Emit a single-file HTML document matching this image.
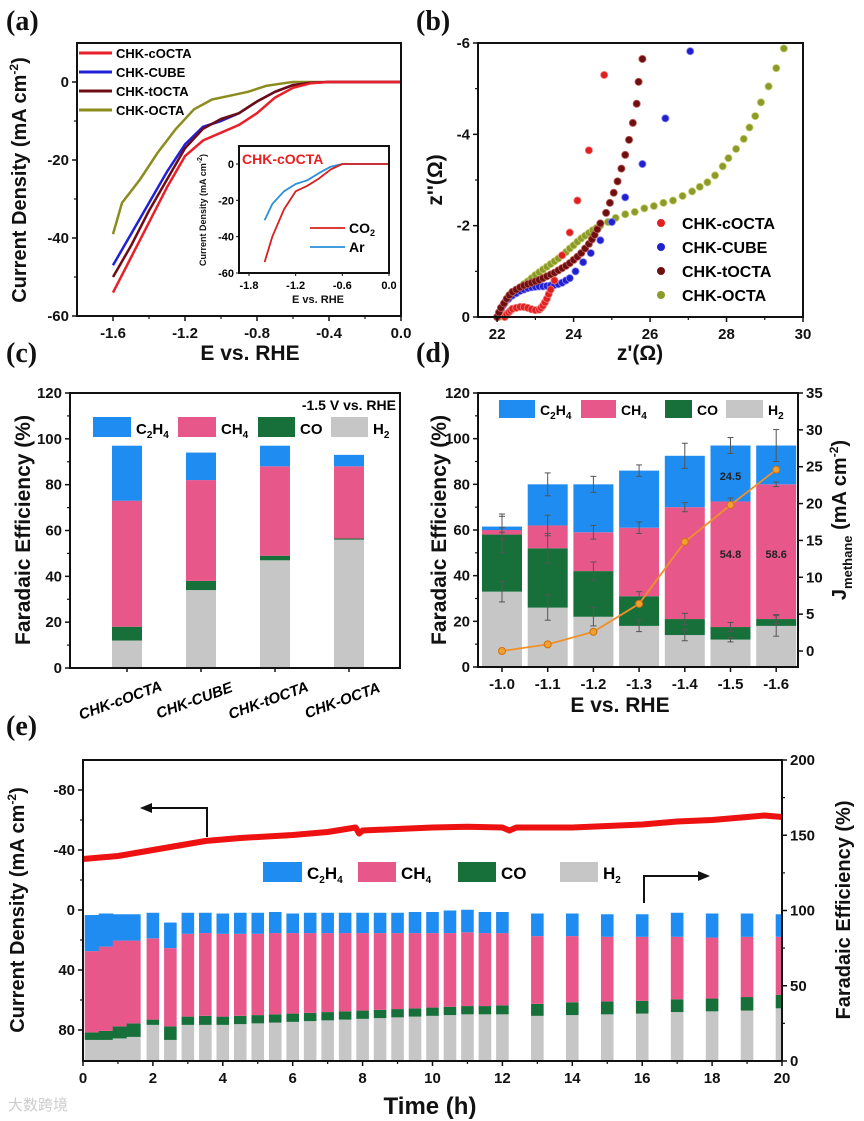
<!DOCTYPE html>
<html><head><meta charset="utf-8">
<style>
html,body{margin:0;padding:0;background:#fff;}
svg{display:block;font-family:"Liberation Sans",Arial,sans-serif;}
.tk{font-size:15px;font-weight:bold;fill:#111;}
.lab{font-weight:bold;fill:#111;}
.pl{font-family:"Liberation Serif",serif;font-size:28px;font-weight:bold;fill:#111;}
</style></head>
<body>
<svg id="fig" width="864" height="1121" viewBox="0 0 864 1121" xmlns="http://www.w3.org/2000/svg">
<g id="root"></g>
</svg>
<script>
// ---------- Panel (a) data ----------
const aE = [-1.6,-1.5,-1.4,-1.3,-1.2,-1.1,-1.0,-0.9,-0.8,-0.7,-0.6,-0.5,-0.4,0.0];
const aCOCTA = [-54,-45,-36,-27,-19,-15,-13,-11,-8,-4,-1.5,-0.3,0,0];
const aCUBE  = [-47,-39,-31,-23,-16,-11.5,-10,-8,-5,-2.5,-0.8,-0.2,0,0];
const aTOCTA = [-50,-42,-33,-25,-17,-12,-9.5,-8,-5,-2.5,-0.8,-0.2,0,0];
const aOCTAE = [-1.6,-1.55,-1.45,-1.35,-1.25,-1.15,-1.05,-0.95,-0.85,-0.75,-0.65,-0.6,0.0];
const aOCTA  = [-39,-31,-25,-18,-12,-7,-4.5,-3.5,-2.5,-1,-0.3,0,0];
const insE = [-1.6,-1.5,-1.35,-1.2,-1.05,-0.9,-0.75,-0.6,0.0];
const insCO2 = [-54,-40,-25,-15,-12,-8,-3,0,0];
const insAr = [-31,-22,-15,-11,-9,-5,-1.5,0,0];
// ---------- Panel (b) data ----------
const bCOCTA = [[22.2,0],[22.25,0.06],[22.3,0.1],[22.35,0.14],[22.4,0.18],[22.5,0.2],[22.6,0.22],[22.7,0.22],[22.8,0.2],[22.9,0.17],[23.0,0.15],[23.1,0.16],[23.15,0.2],[23.2,0.25],[23.25,0.32],[23.3,0.4],[23.35,0.5],[23.4,0.6],[23.5,0.8],[23.7,1.35],[23.9,1.85],[24.1,2.55],[24.4,3.65],[24.8,5.3]];
const bCUBE = [[22.0,0],[22.05,0.1],[22.1,0.18],[22.15,0.25],[22.2,0.32],[22.3,0.4],[22.4,0.47],[22.5,0.52],[22.6,0.57],[22.7,0.6],[22.8,0.63],[22.9,0.65],[23.0,0.66],[23.1,0.67],[23.2,0.67],[23.3,0.68],[23.4,0.69],[23.5,0.7],[23.6,0.72],[23.7,0.75],[23.8,0.8],[23.9,0.85],[24.05,1.0],[24.25,1.2],[24.45,1.4],[24.7,1.68],[25.0,2.08],[25.35,2.62],[25.8,3.35],[26.4,4.35],[27.05,5.82]];
const bTOCTA = [[22.0,0],[22.05,0.1],[22.1,0.2],[22.18,0.3],[22.25,0.4],[22.32,0.48],[22.4,0.55],[22.5,0.6],[22.6,0.65],[22.7,0.69],[22.8,0.72],[22.9,0.75],[23.0,0.78],[23.1,0.81],[23.2,0.85],[23.3,0.89],[23.4,0.93],[23.5,0.97],[23.6,1.02],[23.7,1.07],[23.8,1.12],[23.9,1.18],[24.0,1.25],[24.1,1.32],[24.2,1.4],[24.3,1.5],[24.4,1.6],[24.48,1.7],[24.55,1.8],[24.62,1.92],[24.7,2.05],[24.85,2.28],[24.95,2.5],[25.05,2.72],[25.15,2.97],[25.25,3.25],[25.35,3.55],[25.45,3.88],[25.55,4.25],[25.65,4.67],[25.7,5.15],[25.8,5.65]];
const bOCTA = [[22.05,0],[22.1,0.15],[22.2,0.3],[22.28,0.38],[22.35,0.45],[22.42,0.52],[22.5,0.58],[22.6,0.65],[22.7,0.72],[22.8,0.78],[22.9,0.85],[23.0,0.92],[23.1,0.98],[23.2,1.04],[23.3,1.1],[23.4,1.16],[23.5,1.22],[23.6,1.28],[23.7,1.35],[23.8,1.42],[23.9,1.5],[24.0,1.57],[24.1,1.65],[24.2,1.72],[24.3,1.78],[24.4,1.84],[24.5,1.9],[24.6,1.95],[24.7,2.0],[24.9,2.08],[25.1,2.17],[25.35,2.25],[25.6,2.3],[25.85,2.38],[26.1,2.43],[26.35,2.5],[26.6,2.55],[26.85,2.65],[27.1,2.75],[27.3,2.85],[27.5,2.95],[27.7,3.1],[27.9,3.3],[28.05,3.48],[28.25,3.68],[28.45,3.9],[28.6,4.15],[28.75,4.4],[28.9,4.7],[29.1,5.05],[29.3,5.45],[29.5,5.88]];
// ---------- Panel (c) data ----------
const cCats = ["CHK-cOCTA","CHK-CUBE","CHK-tOCTA","CHK-OCTA"];
const cH2 = [12,34,47,56];
const cCO = [6,4,2,0.5];
const cCH4 = [55,44,39,31.5];
const cC2H4 = [24,12,9,5];
// ---------- Panel (d) data ----------
const dCats = ["-1.0","-1.1","-1.2","-1.3","-1.4","-1.5","-1.6"];
const dH2 = [33,26,22,18,14,12,18];
const dCO = [25,26,20,13,7,5.5,3];
const dCH4 = [2,10,17,30,49,55,59];
const dC2H4 = [1.5,18,21,25,22.5,24.5,17];
const dErrTot = [5.5,5,3.5,2.5,5.5,3.5,7];
const dErrCH4 = [1,4.5,3,2.5,2,1.5,1];
const dErrCO = [8,6.5,4,2,2.5,2,2];
const dErrH2 = [4.5,5.5,4,2.5,2.5,1,4.5];
const dJ = [0,0.9,2.6,6.4,14.8,19.8,24.6];
const dLabels = [["24.5",5,84],["54.8",5,50],["58.6",6,50]];
// ---------- Panel (e) data ----------
const eLineT = [0,1,2,3,3.5,4.5,6,7,7.8,7.9,8,9,10,11,12,12.2,12.4,13,14,15,16,17,18,19,19.5,20];
const eLineJ = [-34,-36,-40,-44,-46,-48,-50,-52,-55,-51,-53,-54,-55,-55.5,-55,-53,-55,-55,-55,-56,-57,-59,-60,-62,-63,-62];
const eT = [0.25,0.65,1.05,1.45,2,2.5,3,3.5,4,4.5,5,5.5,6,6.5,7,7.5,8,8.5,9,9.5,10,10.5,11,11.5,12,13,14,15,16,17,18,19,20];
const eH2 = [14,14,15,16,24,14,24,24,24,24.5,25,25.5,26,26.5,27,27.5,28,28.5,29,29.5,30,30.5,31,31,31,30,30.5,31,31.5,32.5,33,33.5,35];
const eCO = [5,6,8,9,3.5,9,5.5,6,5.5,5.5,5.5,5.5,5.5,5.5,5.5,5.5,5.5,5.5,5.5,5.5,5.5,5.5,5.5,5.5,6,8,8.5,8.5,8.5,8.5,8.5,9,9];
const eCH4 = [54,56,57,55,54,52,55,55,55,54.5,54,54,53.5,53,52.5,52,51.5,51,50.5,50,49.5,49,49,48.5,48,45,44,43,42.5,41.5,40.5,40,38.5];
const eC2H4 = [24,22,17.5,17.5,17,17,14,13.5,13.5,14,14,14,13,13.5,13.5,13.5,13.5,13.5,13.5,14,14,15,15,14,14,15,15,15,15,16,16,15.5,15];
const eW = [0.4,0.4,0.4,0.4,0.36,0.36,0.36,0.36,0.36,0.36,0.36,0.36,0.36,0.36,0.36,0.36,0.36,0.36,0.36,0.36,0.36,0.36,0.36,0.36,0.36,0.36,0.36,0.36,0.36,0.36,0.36,0.36,0.36];

const NS="http://www.w3.org/2000/svg";
const root=document.getElementById('root');
const COL={c2h4:"#1e8cf0",ch4:"#e8578a",co:"#17703a",h2:"#c6c6c6"};
function mk(tag,attrs,parent,txt){const e=document.createElementNS(NS,tag);for(const k in attrs)e.setAttribute(k,attrs[k]);if(txt!==undefined)e.textContent=txt;(parent||root).appendChild(e);return e;}
function lin(d0,d1,p0,p1){return v=>p0+(v-d0)*(p1-p0)/(d1-d0);}
function box(x0,y0,x1,y1,name){const r=mk('rect',{x:x0,y:y0,width:x1-x0,height:y1-y0,fill:'none',stroke:'#111','stroke-width':2});}
function xticks(vals,labs,sx,y,minor,len){vals.forEach((v,i)=>{mk('line',{x1:sx(v),x2:sx(v),y1:y,y2:y+(len||5),stroke:'#111','stroke-width':1.5});if(labs&&labs[i]!==null){const t=mk('text',{x:sx(v),y:y+22,'text-anchor':'middle',class:'tk'},root,labs[i]);}});(minor||[]).forEach(v=>mk('line',{x1:sx(v),x2:sx(v),y1:y,y2:y+3,stroke:'#111','stroke-width':1.2}));}
function yticks(vals,labs,sy,x,dir,minor){vals.forEach((v,i)=>{mk('line',{x1:x,x2:x+dir*5,y1:sy(v),y2:sy(v),stroke:'#111','stroke-width':1.5});if(labs){const t=mk('text',{x:dir<0?x-8:x+8,y:sy(v)+5,'text-anchor':dir<0?'end':'start',class:'tk'},root,labs[i]);}});(minor||[]).forEach(v=>mk('line',{x1:x,x2:x+dir*3,y1:sy(v),y2:sy(v),stroke:'#111','stroke-width':1.2}));}
function label(x,y,txt,rot,fs,name){const t=mk('text',{x:x,y:y,'text-anchor':'middle',class:'lab',style:'font-size:'+fs+'px',transform:rot?`rotate(${rot} ${x} ${y})`:''},root);t.innerHTML=txt;return t;}
function poly(xs,ys,sx,sy,color,w,name){const pts=xs.map((v,i)=>sx(v).toFixed(1)+','+sy(ys[i]).toFixed(1)).join(' ');const p=mk('polyline',{points:pts,fill:'none',stroke:color,'stroke-width':w,'stroke-linejoin':'round'});return p;}
function pl(x,y,t,name){const e=mk('text',{x:x,y:y,class:'pl'},root,t);}

// ===== Panel (a) =====
pl(6,30,'(a)','panel-a-label');
{const sx=lin(-1.8,0,77,401), sy=lin(10,-60,43,316);
poly(aOCTAE,aOCTA,sx,sy,'#8c8c1e',2.5,'line-chk-octa');
poly(aE,aCUBE,sx,sy,'#2020d8',2.5,'line-chk-cube');
poly(aE,aTOCTA,sx,sy,'#6e0c14',2.5,'line-chk-tocta');
poly(aE,aCOCTA,sx,sy,'#e8202a',2.5,'line-chk-cocta');
box(77,43,401,316,'panel-a-axes');
xticks([-1.6,-1.2,-0.8,-0.4,0],['-1.6','-1.2','-0.8','-0.4','0.0'],sx,316,[-1.4,-1.0,-0.6,-0.2]);
yticks([0,-20,-40,-60],['0','-20','-40','-60'],sy,77,-1,[-10,-30,-50]);
label(250,360,'E vs. RHE',0,21,'panel-a-x-title');
label(26,180,'Current Density (mA cm<tspan dy="-8" font-size="12">-2</tspan><tspan dy="8">)</tspan>',-90,20,'panel-a-y-title');
const lg=[['CHK-cOCTA','#e8202a'],['CHK-CUBE','#2020d8'],['CHK-tOCTA','#6e0c14'],['CHK-OCTA','#8c8c1e']];
lg.forEach((l,i)=>{const y=53+i*19;const g=mk('g',{});mk('line',{x1:79,x2:112,y1:y,y2:y,stroke:l[1],'stroke-width':3},g);mk('text',{x:116,y:y+5,'font-size':13,'font-weight':'bold'},g,l[0]);});
// inset
const ix=lin(-1.8,0,249,389), iy=lin(0,-60,164,273);
mk('rect',{x:239,y:146,width:150,height:127,fill:'#fff'});
poly(insE,insAr,ix,iy,'#2a90d8',1.8,'inset-line-ar');
poly(insE,insCO2,ix,iy,'#d82020',1.8,'inset-line-co2');
box(239,146,389,273,'inset-axes');
[-1.8,-1.2,-0.6,0].forEach((v,i)=>{mk('line',{x1:ix(v),x2:ix(v),y1:273,y2:276,stroke:'#111'});const t=mk('text',{x:ix(v),y:289,'text-anchor':'middle','font-size':11,'font-weight':'bold'},root,['-1.8','-1.2','-0.6','0.0'][i]);});
[0,-20,-40,-60].forEach(v=>{mk('line',{x1:239,x2:236,y1:iy(v),y2:iy(v),stroke:'#111'});const t=mk('text',{x:234,y:iy(v)+4,'text-anchor':'end','font-size':11,'font-weight':'bold'},root,String(v));});
label(318,303,'E vs. RHE',0,11,'inset-x-title');
label(206,210,'Current Density (mA cm<tspan dy="-4" font-size="7">-2</tspan><tspan dy="4">)</tspan>',-90,9,'inset-y-title');
const it=mk('text',{x:242,y:164,'font-size':14,'font-weight':'bold',fill:'#e82020'},root,'CHK-cOCTA');
[['CO<tspan dy="3" font-size="9">2</tspan>','#d82020',228],['Ar','#2a90d8',247]].forEach(l=>{const g=mk('g',{});mk('line',{x1:310,x2:345,y1:l[2],y2:l[2],stroke:l[1],'stroke-width':1.8},g);const t=mk('text',{x:349,y:l[2]+5,'font-size':14,'font-weight':'bold'},g);t.innerHTML=l[0];});
}

// ===== Panel (b) =====
pl(416,30,'(b)','panel-b-label');
{const sx=lin(21.5,30,478,803), sy=lin(0,-6,317,43);
const ser=[[bOCTA,'#8c9a2a','#c8d070','chk-octa'],[bCUBE,'#2020d0','#8a8af0','chk-cube'],[bTOCTA,'#6e1010','#c06060','chk-tocta'],[bCOCTA,'#e02020','#f08080','chk-cocta']];
ser.forEach(s=>{const g=mk('g',{});s[0].forEach(p=>{mk('circle',{cx:sx(p[0]),cy:sy(-p[1]),r:3.6,fill:s[1],stroke:s[2],'stroke-width':0.8},g);});});
box(478,43,803,317,'panel-b-axes');
xticks([22,24,26,28,30],['22','24','26','28','30'],sx,317,[23,25,27,29]);
yticks([0,-2,-4,-6],['0','-2','-4','-6'],sy,478,-1,[-1,-3,-5]);
label(640,360,"z'(Ω)",0,21,'panel-b-x-title');
label(442,180,"z''(Ω)",-90,21,'panel-b-y-title');
const lg=[['CHK-cOCTA','#e02020'],['CHK-CUBE','#2020d0'],['CHK-tOCTA','#6e1010'],['CHK-OCTA','#8c9a2a']];
lg.forEach((l,i)=>{const y=223+i*24;const g=mk('g',{});mk('circle',{cx:661,cy:y,r:4,fill:l[1]},g);mk('text',{x:682,y:y+6,'font-size':16,'font-weight':'bold'},g,l[0]);});
}

// stacked bar helper
function stack(sx,sy,x,w,vals,name){let acc=0;const cols=[COL.h2,COL.co,COL.ch4,COL.c2h4];const nm=['h2','co','ch4','c2h4'];vals.forEach((v,i)=>{const r=mk('rect',{x:x-w/2,y:sy(acc+v),width:w,height:Math.max(0,sy(acc)-sy(acc+v)),fill:cols[i]});acc+=v;});}
function legend4(items,y,h,fs,name){items.forEach(it=>{const g=mk('g',{});mk('rect',{x:it[0],y:y,width:it[1]-it[0],height:h,fill:it[2]},g);const t=mk('text',{x:it[1]+5,y:y+h-3,'font-size':fs,'font-weight':'bold'},g);t.innerHTML=it[3];});}
const L4=['C<tspan dy="4" font-size="10">2</tspan><tspan dy="-4">H</tspan><tspan dy="4" font-size="10">4</tspan>','CH<tspan dy="4" font-size="10">4</tspan>','CO','H<tspan dy="4" font-size="10">2</tspan>'];

// ===== Panel (c) =====
pl(6,362,'(c)','panel-c-label');
{const sy=lin(0,120,668,393);const xc=i=>127+i*74;
cCats.forEach((c,i)=>stack(null,sy,xc(i),30,[cH2[i],cCO[i],cCH4[i],cC2H4[i]],'bar-'+c.toLowerCase()));
box(70,393,400,668,'panel-c-axes');
yticks([0,20,40,60,80,100,120],['0','20','40','60','80','100','120'],sy,70,-1,[10,30,50,70,90,110]);
cCats.forEach((c,i)=>{mk('line',{x1:xc(i),x2:xc(i),y1:668,y2:672,stroke:'#111','stroke-width':1.5});const x=xc(i)-5,y=705;const t=mk('text',{x:x,y:y,'text-anchor':'middle','font-size':15,'font-weight':'bold','font-style':'italic',transform:`rotate(-20 ${x} ${y})`},root,c);});
label(30,530,'Faradaic Efficiency (%)',-90,21,'panel-c-y-title');
const t=mk('text',{x:396,y:410,'text-anchor':'end','font-size':14,'font-weight':'bold'},root,'-1.5 V vs. RHE');
legend4([[93,131,COL.c2h4,L4[0]],[178,216,COL.ch4,L4[1]],[258,295,COL.co,L4[2]],[331,368,COL.h2,L4[3]]],417,20,15,'legend-entry-c');
}

// ===== Panel (d) =====
pl(416,362,'(d)','panel-d-label');
{const sy=lin(0,120,667,393), sj=lin(0,35,651,393);const xc=i=>502+i*45.7;
dCats.forEach((c,i)=>stack(null,sy,xc(i),40,[dH2[i],dCO[i],dCH4[i],dC2H4[i]],'bar-e'+c));
function eb(x,v,e){const g=mk('g',{stroke:'#555','stroke-width':1});mk('line',{x1:x,x2:x,y1:sy(v-e),y2:sy(v+e)},g);mk('line',{x1:x-3,x2:x+3,y1:sy(v-e),y2:sy(v-e)},g);mk('line',{x1:x-3,x2:x+3,y1:sy(v+e),y2:sy(v+e)},g);}
dCats.forEach((c,i)=>{const a=dH2[i],b=a+dCO[i],cc=b+dCH4[i],d=cc+dC2H4[i];eb(xc(i),a,dErrH2[i]);eb(xc(i),b,dErrCO[i]);eb(xc(i),cc,dErrCH4[i]);eb(xc(i),d,dErrTot[i]);});
poly(dJ.map((v,i)=>i),dJ,i=>xc(i),sj,'#f0902a',1.8,'j-methane-line');
dJ.forEach((v,i)=>{const c=mk('circle',{cx:xc(i),cy:sj(v),r:3.5,fill:'#f0a030',stroke:'#d07010'});});
dLabels.forEach(l=>{const t=mk('text',{x:xc(l[1]),y:sy(l[2])+5,'text-anchor':'middle','font-size':11,'font-weight':'bold',fill:'#222'},root,l[0]);});
box(478,393,798,667,'panel-d-axes');
yticks([0,20,40,60,80,100,120],['0','20','40','60','80','100','120'],sy,478,-1,[10,30,50,70,90,110]);
yticks([0,5,10,15,20,25,30,35],['0','5','10','15','20','25','30','35'],sj,798,1);
xticks(dCats.map((c,i)=>i),dCats,i=>xc(i),667);
label(620,712,'E vs. RHE',0,21,'panel-d-x-title');
label(446,530,'Faradaic Efficiency (%)',-90,21,'panel-d-y-title');
label(846,520,'J<tspan dy="6" font-size="13">methane</tspan><tspan dy="-6"> (mA cm</tspan><tspan dy="-8" font-size="12">-2</tspan><tspan dy="8">)</tspan>',-90,20,'panel-d-right-title');
legend4([[499,535,COL.c2h4,L4[0]],[581,616,COL.ch4,L4[1]],[665,692,COL.co,L4[2]],[726,763,COL.h2,L4[3]]],400,18,14,'legend-entry-d');
}

// ===== Panel (e) =====
pl(6,735,'(e)','panel-e-label');
{const sx=lin(0,20,83,782), sj=lin(-100,100,760,1060), sf=lin(0,200,1061,760);
const cp=mk('clipPath',{id:'ce'});mk('rect',{x:83,y:760,width:699,height:301},cp);
const g=mk('g',{'clip-path':'url(#ce)'});
eT.forEach((t,i)=>{let acc=0;[[eH2[i],COL.h2],[eCO[i],COL.co],[eCH4[i],COL.ch4],[eC2H4[i],COL.c2h4]].forEach(s=>{const w=(sx(eW[i])-sx(0));const r=mk('rect',{x:sx(t)-w/2,y:sf(acc+s[0]),width:w+(i<3?0.6:0),height:sf(acc)-sf(acc+s[0]),fill:s[1]},g);acc+=s[0];});});
poly(eLineT,eLineJ,sx,sj,'#ee1111',6,'current-density-line');
box(83,760,782,1061,'panel-e-axes');
xticks([0,2,4,6,8,10,12,14,16,18,20],['0','2','4','6','8','10','12','14','16','18','20'],sx,1061,[1,3,5,7,9,11,13,15,17,19]);
yticks([-80,-40,0,40,80],['-80','-40','0','40','80'],sj,83,-1,[-60,-20,20,60]);
yticks([0,50,100,150,200],['0','50','100','150','200'],sf,782,1,[25,75,125,175]);
label(430,1114,'Time (h)',0,24,'panel-e-x-title');
label(24,910,'Current Density (mA cm<tspan dy="-8" font-size="12">-2</tspan><tspan dy="8">)</tspan>',-90,20,'panel-e-y-title');
label(850,910,'Faradaic Efficiency (%)',-90,20,'panel-e-right-title');
legend4([[263,302,COL.c2h4,L4[0]],[358,396,COL.ch4,L4[1]],[458,496,COL.co,L4[2]],[560,598,COL.h2,L4[3]]],862,20,17,'legend-entry-e');
const a1=mk('g',{stroke:'#111','stroke-width':2,fill:'none'});
mk('polyline',{points:'207,837 207,808 150,808'},a1);mk('polygon',{points:'140,808 152,803 152,813',fill:'#111',stroke:'none'},a1);
const a2=mk('g',{stroke:'#111','stroke-width':2,fill:'none'});
mk('polyline',{points:'644,903 644,876 700,876'},a2);mk('polygon',{points:'710,876 698,871 698,881',fill:'#111',stroke:'none'},a2);
}
const wm=mk('text',{x:8,y:1110,'font-size':15,fill:'#ccc','font-family':'"Liberation Sans","Noto Sans CJK SC",sans-serif'},root,'大数跨境');
</script>
</body></html>
